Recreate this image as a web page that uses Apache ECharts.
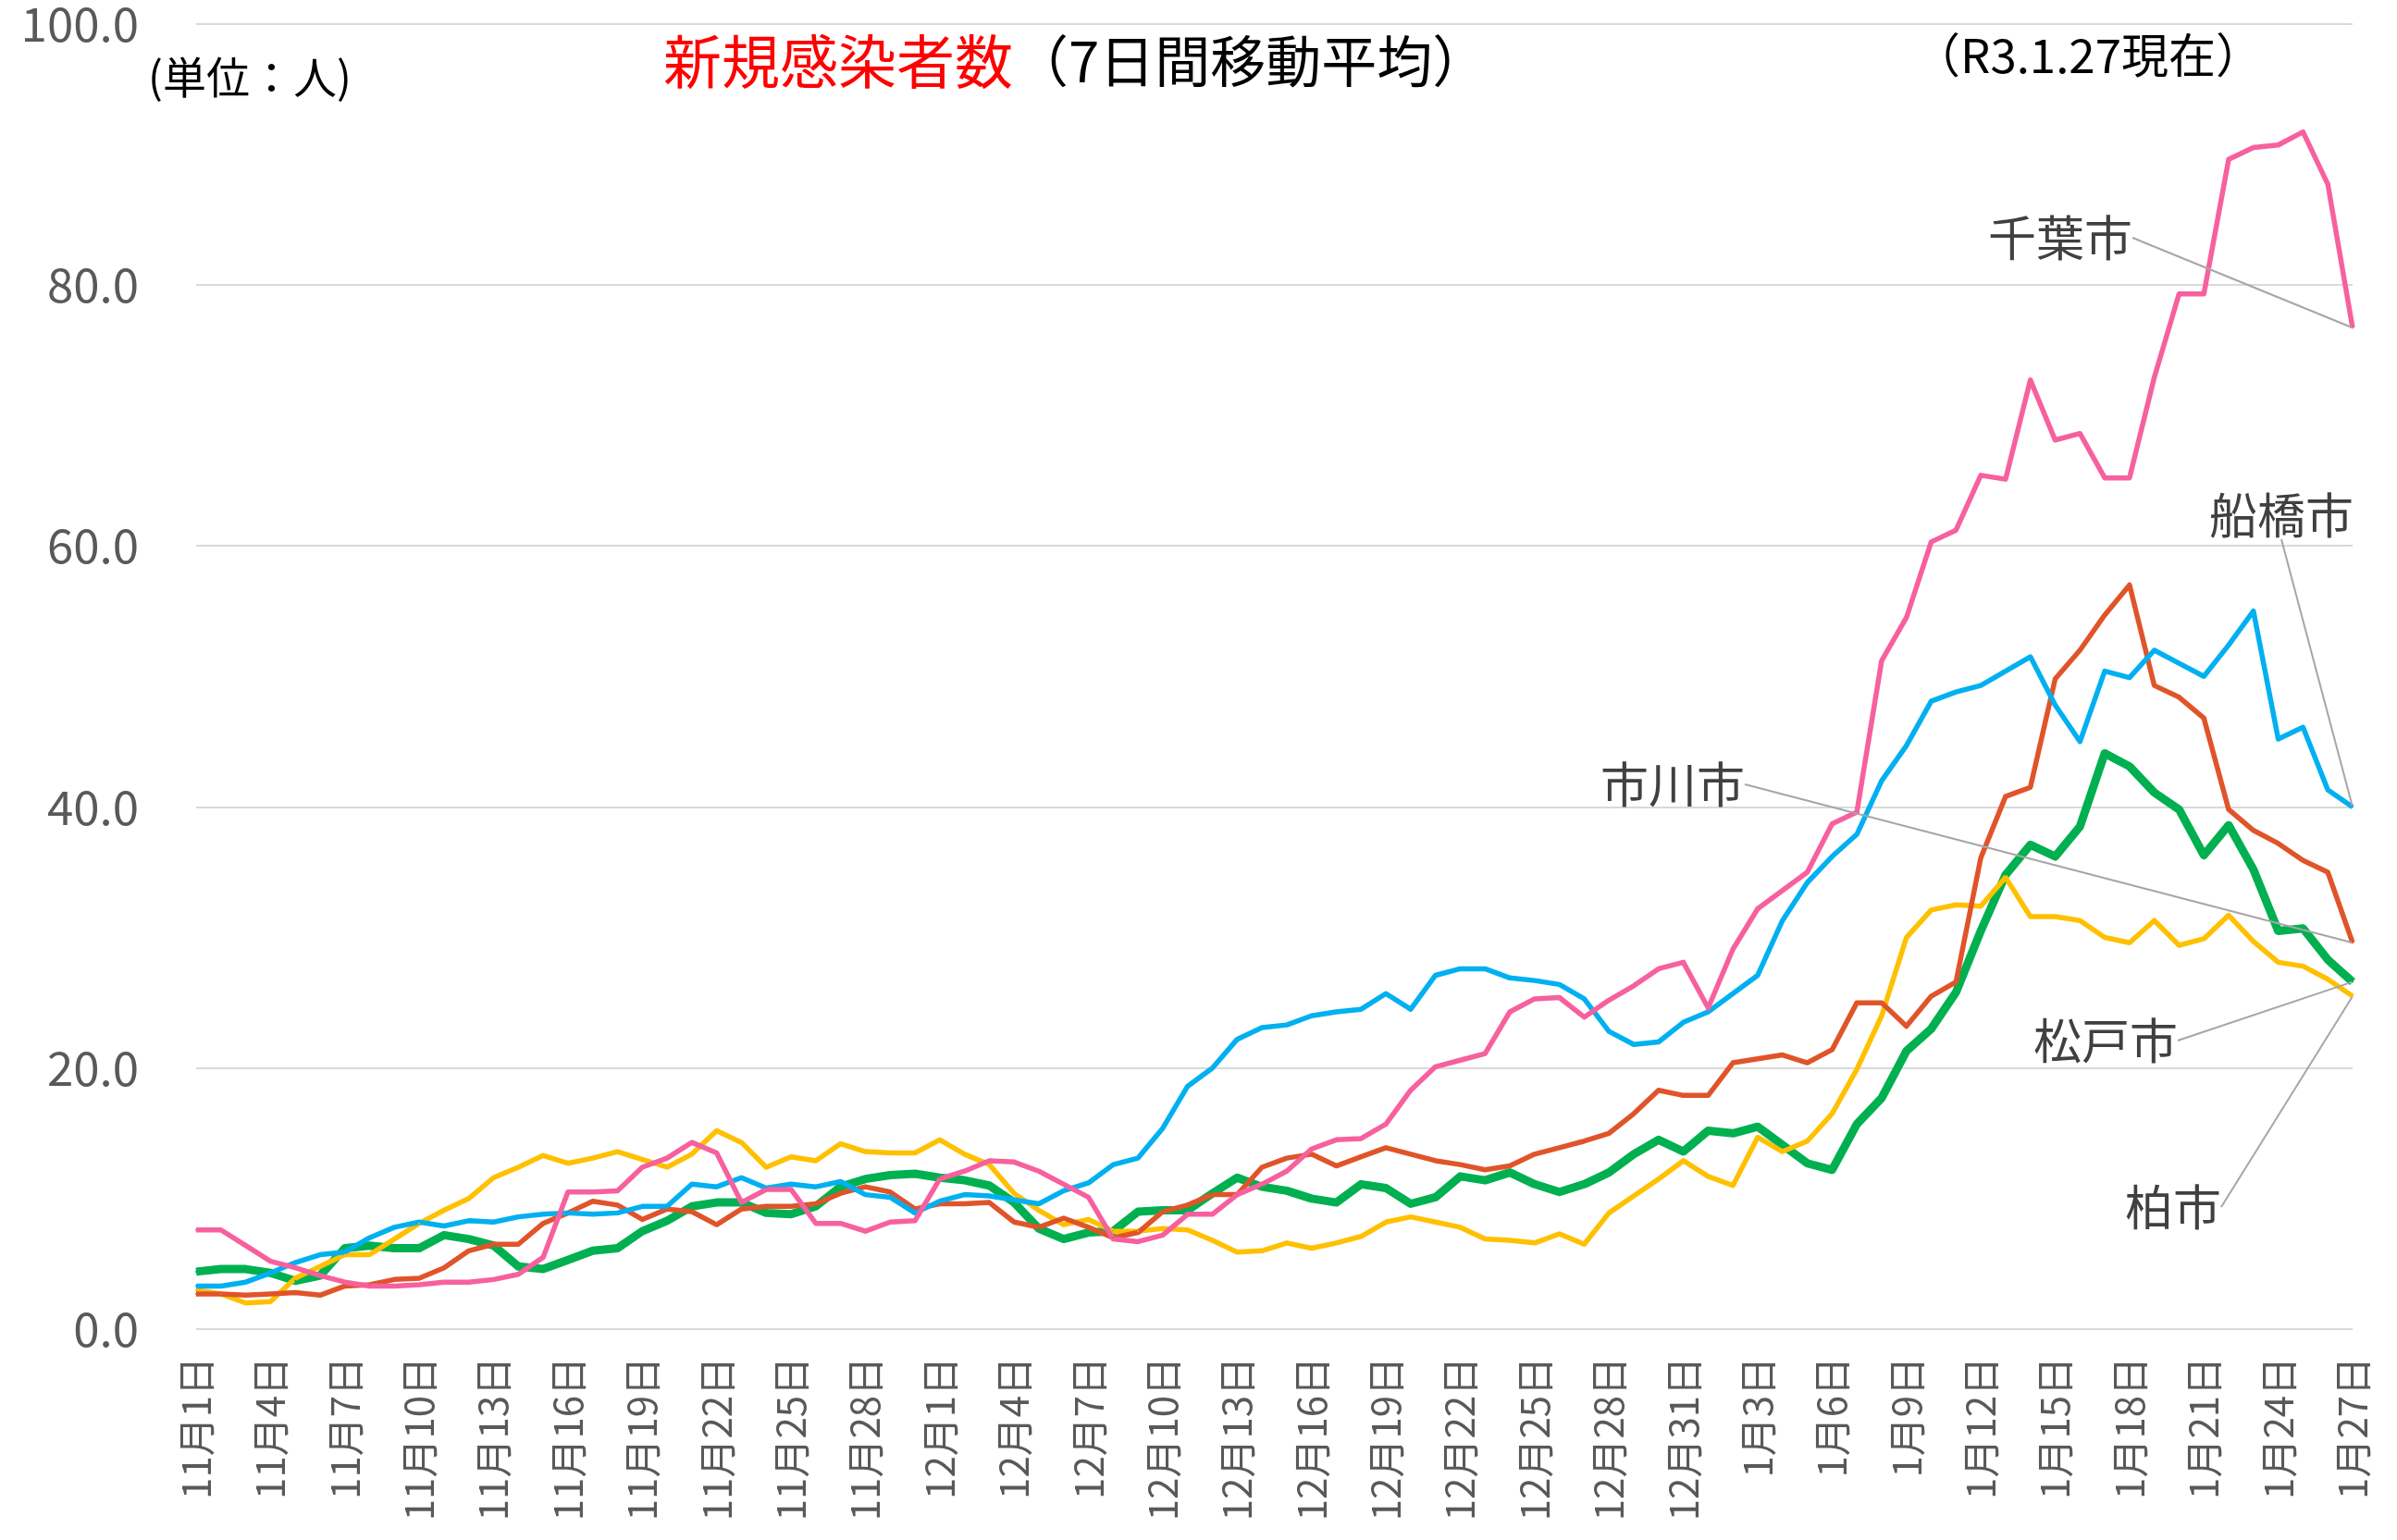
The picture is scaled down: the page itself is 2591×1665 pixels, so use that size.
<!DOCTYPE html>
<html>
<head>
<meta charset="utf-8">
<script src="https://cdn.jsdelivr.net/npm/echarts@6/dist/echarts.min.js"></script>
<style>
html,body{margin:0;padding:0;background:#fff;}
#chart{width:2591px;height:1665px;}
</style>
</head>
<body>
<div id="chart"></div>
<script>
// 日付（11月1日〜1月27日）
var dates = [
    '11月1日','11月2日','11月3日','11月4日','11月5日','11月6日','11月7日','11月8日','11月9日','11月10日',
    '11月11日','11月12日','11月13日','11月14日','11月15日','11月16日','11月17日','11月18日','11月19日','11月20日',
    '11月21日','11月22日','11月23日','11月24日','11月25日','11月26日','11月27日','11月28日','11月29日','11月30日',
    '12月1日','12月2日','12月3日','12月4日','12月5日','12月6日','12月7日','12月8日','12月9日','12月10日',
    '12月11日','12月12日','12月13日','12月14日','12月15日','12月16日','12月17日','12月18日','12月19日','12月20日',
    '12月21日','12月22日','12月23日','12月24日','12月25日','12月26日','12月27日','12月28日','12月29日','12月30日',
    '12月31日','1月1日','1月2日','1月3日','1月4日','1月5日','1月6日','1月7日','1月8日','1月9日',
    '1月10日','1月11日','1月12日','1月13日','1月14日','1月15日','1月16日','1月17日','1月18日','1月19日',
    '1月20日','1月21日','1月22日','1月23日','1月24日','1月25日','1月26日','1月27日'
];

// 7日間移動平均
var chiba = [
    7.6,7.6,6.4,5.2,4.7,4.1,3.6,3.3,3.3,3.4,
    3.6,3.6,3.8,4.2,5.5,10.5,10.5,10.6,12.4,13.1,
    14.3,13.5,9.7,10.7,10.7,8.1,8.1,7.5,8.2,8.3,
    11.5,12.1,12.9,12.8,12.1,11.1,10.1,6.9,6.7,7.2,
    8.8,8.8,10.3,11.1,12.1,13.8,14.5,14.6,15.7,18.3,
    20.1,20.6,21.1,24.3,25.3,25.4,23.9,25.2,26.3,27.6,
    28.1,24.6,29.1,32.2,33.6,35.0,38.7,39.6,51.2,54.5,
    60.3,61.2,65.4,65.1,72.7,68.1,68.6,65.2,65.2,72.9,
    79.3,79.3,89.6,90.5,90.7,91.7,87.7,76.7
];
var funabashi = [
    3.3,3.3,3.6,4.3,5.1,5.7,5.9,7.0,7.8,8.2,
    7.9,8.3,8.2,8.6,8.8,8.9,8.8,8.9,9.4,9.4,
    11.1,10.9,11.6,10.8,11.1,10.9,11.3,10.3,10.1,8.9,
    9.8,10.3,10.2,9.9,9.6,10.6,11.2,12.6,13.1,15.4,
    18.6,20.0,22.2,23.1,23.3,24.0,24.3,24.5,25.7,24.5,
    27.1,27.6,27.6,26.9,26.7,26.4,25.3,22.8,21.8,22.0,
    23.5,24.3,25.7,27.1,31.3,34.2,36.2,37.9,42.0,44.7,
    48.1,48.8,49.3,50.4,51.5,47.8,45.0,50.4,49.9,52.0,
    51.0,50.0,52.4,55.0,45.2,46.1,41.3,40.0
];
var matsudo = [
    4.4,4.6,4.6,4.3,3.7,4.1,6.2,6.4,6.2,6.2,
    7.2,6.9,6.4,4.8,4.6,5.3,6.0,6.2,7.5,8.3,
    9.4,9.7,9.7,8.9,8.8,9.4,10.9,11.5,11.8,11.9,
    11.6,11.4,11.0,9.7,7.7,6.9,7.4,7.5,9.0,9.1,
    9.1,10.4,11.6,10.9,10.6,10.0,9.7,11.1,10.8,9.6,
    10.1,11.7,11.4,12.0,11.1,10.5,11.1,12.0,13.4,14.5,
    13.6,15.2,15.0,15.5,14.1,12.7,12.2,15.7,17.7,21.3,
    23.0,25.8,30.5,34.8,37.1,36.2,38.5,44.1,43.1,41.1,
    39.8,36.3,38.6,35.2,30.5,30.7,28.3,26.6
];
var ichikawa = [
    2.7,2.7,2.6,2.7,2.8,2.6,3.3,3.4,3.8,3.9,
    4.7,6.0,6.5,6.5,8.1,8.9,9.8,9.5,8.4,9.2,
    9.0,8.0,9.2,9.4,9.4,9.6,10.4,10.9,10.5,9.2,
    9.6,9.6,9.7,8.2,7.8,8.5,7.8,7.0,7.4,9.0,
    9.5,10.3,10.3,12.4,13.1,13.4,12.5,13.2,13.9,13.4,
    12.9,12.6,12.2,12.5,13.4,13.9,14.4,15.0,16.5,18.3,
    17.9,17.9,20.4,20.7,21.0,20.4,21.4,25.0,25.0,23.2,
    25.5,26.6,36.1,40.8,41.5,49.8,52.0,54.7,57.0,49.3,
    48.4,46.8,39.8,38.2,37.2,35.9,35.0,29.6
];
var kashiwa = [
    3.0,2.7,2.0,2.1,3.9,4.8,5.7,5.7,6.9,8.1,
    9.1,10.0,11.6,12.4,13.3,12.7,13.1,13.6,13.0,12.4,
    13.4,15.2,14.3,12.4,13.2,12.9,14.2,13.6,13.5,13.5,
    14.5,13.4,12.6,10.4,9.1,8.0,8.4,7.5,7.5,7.7,
    7.6,6.8,5.9,6.0,6.6,6.2,6.6,7.1,8.2,8.6,
    8.2,7.8,6.9,6.8,6.6,7.3,6.5,8.9,10.2,11.5,
    12.9,11.7,11.0,14.7,13.6,14.4,16.5,19.9,24.0,30.0,
    32.1,32.5,32.4,34.6,31.6,31.6,31.3,30.0,29.6,31.3,
    29.4,29.9,31.7,29.7,28.1,27.8,26.8,25.5
];

var yTicks = [0, 20, 40, 60, 80, 100];

var font = '"Noto Sans CJK JP", "Noto Sans", sans-serif';

function lastLabel(arr) {
    var d = arr.slice(0, arr.length - 1);
    d.push({value: arr[arr.length - 1], label: {show: true}});
    return d;
}

function makeSeries(name, arr, color, width, pos) {
    return {
        name: name,
        type: 'line',
        data: lastLabel(arr),
        showSymbol: true,
        showAllSymbol: true,
        symbol: 'circle',
        symbolSize: 2,
        itemStyle: {color: color},
        lineStyle: {color: color, width: width, join: 'round'},
        label: {
            show: false,
            formatter: name,
            fontFamily: font,
            fontSize: 52,
            color: '#404040'
        },
        labelLine: {
            show: true,
            lineStyle: {color: '#a6a6a6', width: 2}
        },
        labelLayout: {x: pos[0], y: pos[1], align: 'left', verticalAlign: 'middle'},
        emphasis: {disabled: true}
    };
}

var chart = echarts.init(document.getElementById('chart'));
var option = {
    animation: false,
    backgroundColor: '#fff',
    title: {
        text: '{r|新規感染者数}{k|（7日間移動平均）}',
        left: 712,
        top: 30,
        textStyle: {
            rich: {
                r: {fontFamily: font, fontSize: 63, fontWeight: 'normal', color: '#ff0000'},
                k: {fontFamily: font, fontSize: 60, fontWeight: 'normal', color: '#000000'}
            }
        }
    },
    graphic: [
        {
            type: 'text', left: 160, top: 60,
            style: {text: '(単位：人)', font: '47px ' + font, fill: '#000'}
        },
        {
            type: 'text', left: 2068, top: 34,
            style: {text: '（R3.1.27現在）', font: '51px ' + font, fill: '#000'}
        }
    ],
    grid: {left: 212, right: 48, top: 25, bottom: 228},
    xAxis: {
        type: 'category',
        data: dates,
        boundaryGap: false,
        axisLine: {show: false},
        axisTick: {show: false},
        axisLabel: {
            interval: 2,
            rotate: 90,
            margin: 30,
            fontFamily: font,
            fontSize: 42,
            color: '#595959'
        }
    },
    yAxis: {
        type: 'value',
        min: yTicks[0],
        max: yTicks[yTicks.length - 1],
        interval: 20,
        axisLine: {show: false},
        axisTick: {show: false},
        splitLine: {lineStyle: {color: '#d9d9d9', width: 2}},
        axisLabel: {
            margin: 62,
            fontFamily: font,
            fontSize: 51,
            color: '#595959',
            formatter: function (v) { return v.toFixed(1); }
        }
    },
    series: [
        makeSeries('松戸市', matsudo, '#00b050', 9, [2198, 1125]),
        makeSeries('柏市', kashiwa, '#ffc000', 5.5, [2297, 1305]),
        makeSeries('市川市', ichikawa, '#e0542a', 5.5, [1730, 848]),
        makeSeries('船橋市', funabashi, '#00b0f0', 5.5, [2388, 557]),
        makeSeries('千葉市', chiba, '#f7609f', 5.5, [2149, 257])
    ]
};
chart.setOption(option);
</script>
</body>
</html>
